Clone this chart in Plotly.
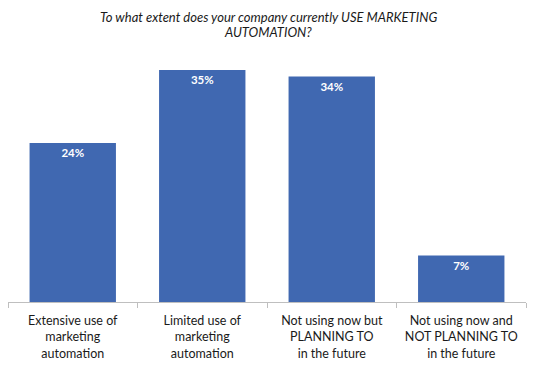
import plotly.graph_objects as go

categories = [
    "Extensive use of<br>marketing<br>automation",
    "Limited use of<br>marketing<br>automation",
    "Not using now but<br>PLANNING TO<br>in the future",
    "Not using now and<br>NOT PLANNING TO<br>in the future",
]
values = [24, 35, 34, 7]
labels = [f"{v}%" for v in values]
title_lines = [
    "To what extent does your company currently USE MARKETING",
    "AUTOMATION?",
]

FONT = "Lato"

fig = go.Figure(
    go.Bar(
        x=categories,
        y=values,
        text=labels,
        textposition="inside",
        insidetextanchor="end",
        textfont=dict(color="white", size=11.5, family=FONT),
        texttemplate="<b>%{text}</b>",
        marker=dict(color="#4068B1", line=dict(width=0)),
    )
)

annotations = []
for i, line in enumerate(title_lines):
    annotations.append(
        dict(
            text=f"<i>{line}</i>",
            xref="paper",
            yref="paper",
            x=0.502,
            y=1,
            xanchor="center",
            yanchor="middle",
            yshift=43 - 15 * i,
            showarrow=False,
            font=dict(size=13, color="#1a1a1a", family=FONT),
        )
    )

fig.update_layout(
    width=541,
    height=370,
    margin=dict(l=0, r=23, t=52, b=76),
    paper_bgcolor="white",
    plot_bgcolor="white",
    bargap=0.333,
    showlegend=False,
    uniformtext=dict(minsize=8, mode="show"),
    annotations=annotations,
    xaxis=dict(
        showline=True,
        linecolor="#bfbfbf",
        linewidth=1,
        ticks="outside",
        tickson="boundaries",
        tickcolor="#bfbfbf",
        ticklen=5,
        automargin=False,
        ticklabelstandoff=7,
        tickfont=dict(size=12.5, color="#1a1a1a", family=FONT),
    ),
    yaxis=dict(
        range=[0, 36.5],
        visible=False,
    ),
)

fig.write_html("out.html")
